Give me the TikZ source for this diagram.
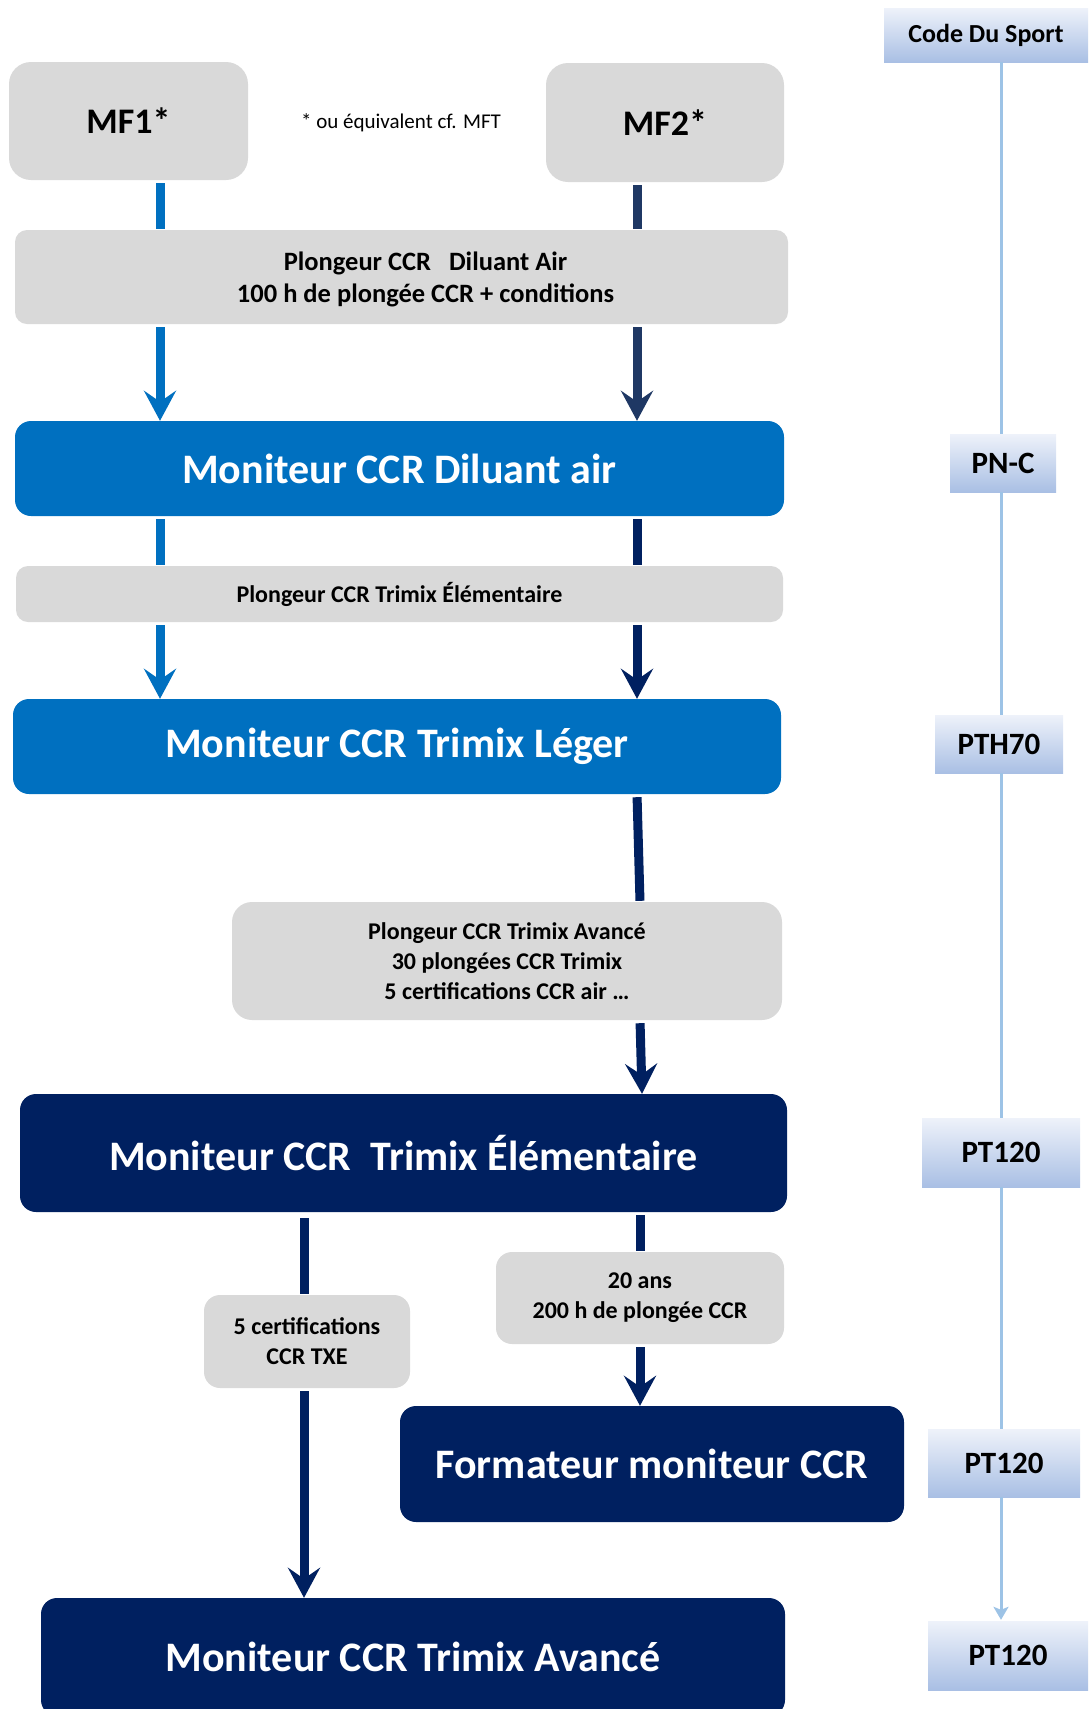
\documentclass[tikz,border=0pt]{standalone}
\usepackage{fontspec}
\setmainfont{Carlito}
\usetikzlibrary{arrows.meta,calc}
\definecolor{grayfill}{HTML}{D9D9D9}
\definecolor{midblue}{HTML}{0070C0}
\definecolor{navy}{HTML}{002060}
\definecolor{slatenavy}{HTML}{1F3864}
\definecolor{lineblue}{HTML}{9DC3E6}
\definecolor{gradtop}{HTML}{EEF2FA}
\definecolor{gradbot}{HTML}{A9BFE4}
\begin{document}
\begin{tikzpicture}[x=1pt,y=-1pt,
  box/.style={rectangle, inner sep=0pt, align=center, text=black},
  graybox/.style={box, fill=grayfill, rounded corners=12pt, font=\fontsize{24}{30}\selectfont\bfseries},
  mfbox/.style={box, fill=grayfill, rounded corners=22pt, font=\fontsize{36}{40}\selectfont\bfseries},
  bigbox/.style={box, rounded corners=16pt, text=white, font=\fontsize{42}{46}\selectfont\bfseries},
  codebox/.style={box, top color=gradtop, bottom color=gradbot, font=\fontsize{31}{34}\selectfont\bfseries},
  flowline/.style={line width=9pt, shorten <=3pt},
  flowtip/.style={-{Stealth[length=30pt,width=32pt,inset=11pt]}},
  codeline/.style={draw=lineblue, line width=3pt},
]
\useasboundingbox (0,0) rectangle (1088,1709);
\clip (0,0) rectangle (1088,1709);

% column coordinates
\coordinate (cL) at (160,0);
\coordinate (cR) at (637,0);
\coordinate (cR2) at (640,0);
\coordinate (cB) at (304,0);
\coordinate (cT) at (1001,0);

% left flow nodes
\node[mfbox, minimum width=239pt, minimum height=118pt] (mf1) at (128.5,121) {MF1*};
\node[mfbox, minimum width=238pt, minimum height=119pt] (mf2) at (665,122.5) {MF2*};
\node[box, font=\fontsize{21}{24}\selectfont] (note) at (401,123) {* ou équivalent cf. MFT};
\node[graybox, minimum width=773pt, minimum height=94pt] (pl1) at (401.5,277) {};
\node[box, font=\fontsize{26.5}{31.5}\selectfont\bfseries] (pl1t) at (425.5,279.5)
  {Plongeur CCR\ \ \ Diluant Air\\100 h de plongée CCR + conditions};
\node[bigbox, fill=midblue, minimum width=769pt, minimum height=95pt] (mcda) at (399.5,468.5) {Moniteur CCR Diluant air};
\node[graybox, minimum width=767pt, minimum height=56pt] (pl2) at (399.5,594) {Plongeur CCR Trimix Élémentaire};
\node[bigbox, fill=midblue, minimum width=768pt, minimum height=95pt] (mtl) at (397,746.5) {Moniteur CCR Trimix Léger};
\node[graybox, rounded corners=20pt, minimum width=550pt, minimum height=118pt] (pl3) at (507,961)
  {Plongeur CCR Trimix Avancé\\30 plongées CCR Trimix\\5 certifications CCR air …};
\node[bigbox, fill=navy, minimum width=767pt, minimum height=118pt] (mte) at (403.5,1153) {Moniteur CCR\ \ Trimix Élémentaire};
\node[graybox, rounded corners=16pt, minimum width=206pt, minimum height=93pt] (cert) at (307,1341.5) {5 certifications\\CCR TXE};
\node[graybox, rounded corners=16pt, minimum width=288pt, minimum height=92pt] (ans) at (640,1298) {20 ans\\200 h de plongée CCR};
\node[bigbox, fill=navy, minimum width=504pt, minimum height=116pt] (fmc) at (652,1464) {Formateur moniteur CCR};
\node[bigbox, fill=navy, minimum width=744pt, minimum height=118pt] (mta) at (413,1657) {Moniteur CCR Trimix Avancé};

% right column nodes
\node[codebox, font=\fontsize{26}{30}\selectfont\bfseries, minimum width=204pt, minimum height=54pt] (cds) at (986,35) {Code Du Sport};
\node[codebox, minimum width=106pt, minimum height=58pt] (pnc) at (1003,463) {PN-C};
\node[codebox, minimum width=128pt, minimum height=58pt] (pth) at (999,744) {PTH70};
\node[codebox, minimum width=158pt, minimum height=69pt] (pt1) at (1001,1152.5) {PT120};
\node[codebox, minimum width=152pt, minimum height=68pt] (pt2) at (1004,1463) {PT120};
\node[codebox, minimum width=160pt, minimum height=69pt] (pt3) at (1008,1655.5) {PT120};

% left blue connectors
\draw[flowline, draw=midblue, shorten >=1pt] (mf1.south -| cL) -- (pl1.north -| cL);
\draw[flowline, flowtip, draw=midblue, fill=midblue] (pl1.south -| cL) -- (mcda.north -| cL);
\draw[flowline, draw=midblue, shorten >=1pt] (mcda.south -| cL) -- (pl2.north -| cL);
\draw[flowline, flowtip, draw=midblue, fill=midblue] (pl2.south -| cL) -- (mtl.north -| cL);

% right navy connectors
\draw[flowline, draw=slatenavy, shorten >=1pt] (mf2.south -| cR) -- (pl1.north -| cR);
\draw[flowline, flowtip, draw=slatenavy, fill=slatenavy] (pl1.south -| cR) -- (mcda.north -| cR);
\draw[flowline, draw=navy, shorten >=1pt] (mcda.south -| cR) -- (pl2.north -| cR);
\draw[flowline, flowtip, draw=navy, fill=navy] (pl2.south -| cR) -- (mtl.north -| cR);
\draw[flowline, draw=navy, shorten >=1pt] (mtl.south -| cR) -- (pl3.north -| cR2);
\draw[flowline, flowtip, draw=navy, fill=navy] (pl3.south -| cR2) -- ($(mte.north -| cR2)+(2,0)$);
\draw[flowline, draw=navy, shorten >=1pt] (mte.south -| cR2) -- (ans.north -| cR2);
\draw[flowline, flowtip, draw=navy, fill=navy] (ans.south -| cR2) -- (fmc.north -| cR2);
\draw[flowline, draw=navy, shorten <=6pt, shorten >=1pt] (mte.south -| cB) -- (cert.north -| cB);
\draw[flowline, flowtip, draw=navy, fill=navy] (cert.south -| cB) -- (mta.north -| cB);

% right column line
\draw[codeline] (cds.south -| cT) -- (pnc.north -| cT);
\draw[codeline] (pnc.south -| cT) -- (pth.north -| cT);
\draw[codeline] (pth.south -| cT) -- (pt1.north -| cT);
\draw[codeline] (pt1.south -| cT) -- (pt2.north -| cT);
\draw[codeline, -{Stealth[length=13pt,width=15pt,inset=3pt]}, fill=lineblue] (pt2.south -| cT) -- ($(pt3.north -| cT)+(0,-1)$);
\end{tikzpicture}
\end{document}
